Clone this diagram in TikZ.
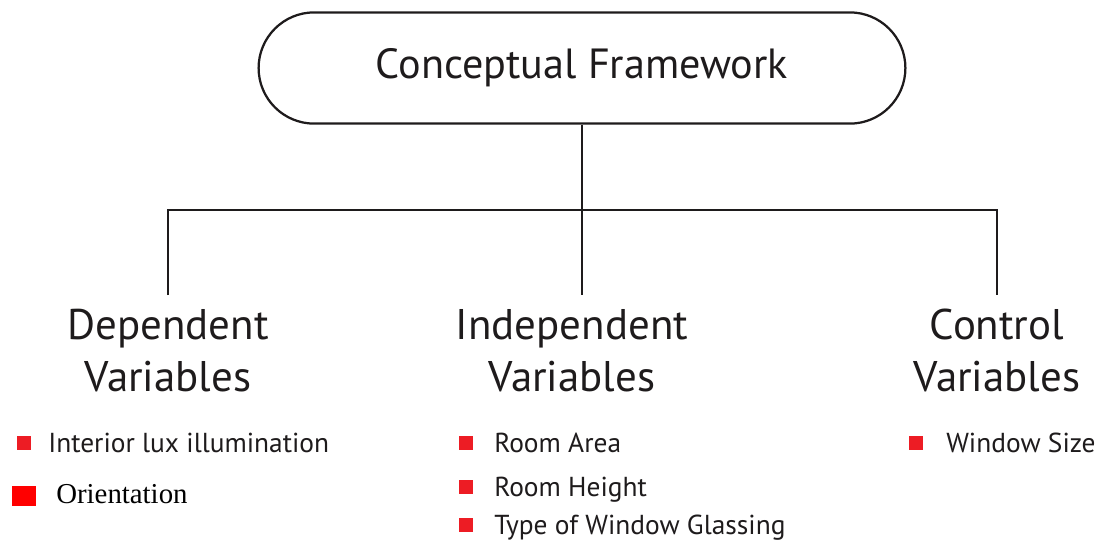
\documentclass[tikz,border=0pt]{standalone}
\usepackage{fontspec}
\setmainfont{PT Sans}
\newfontfamily\timesfont{Liberation Serif}
\usepackage{tikz}
\usetikzlibrary{positioning,shapes.misc}
\usepackage{xcolor}
\definecolor{cfred}{RGB}{237,28,36}
\definecolor{cfpure}{RGB}{255,0,0}
\definecolor{cfblack}{RGB}{30,27,28}
\tikzstyle{frame} = [rounded rectangle, draw=cfblack, line width=1.6pt, minimum width=16.4cm, minimum height=2.78cm, font=\fontsize{30}{36}\selectfont]
\tikzstyle{heading} = [align=center, anchor=north, inner xsep=0pt, inner ysep=10pt, font=\fontsize{30.5}{37}\selectfont]
\tikzstyle{link} = [line width=0.8pt, color=cfblack]
\tikzstyle{item} = [anchor=base west, inner sep=0pt, font=\fontsize{19.5}{22}\selectfont]
\tikzstyle{square} = [rectangle, fill=cfred, minimum size=0.36cm, inner sep=0pt]

\begin{document}
\begin{tikzpicture}[x=0.025cm, y=-0.025cm, text=cfblack]
\useasboundingbox (0,0) rectangle (1104,542);

% Title
\node[frame] (cf) at (582,68) {Conceptual Framework};

% Variable groups
\node[heading] (dep) at (168,295) {Dependent\\Variables};
\node[heading] (ind) at (572,295) {Independent\\Variables};
\node[heading] (ctl) at (997,295) {Control\\Variables};

% Branches
\draw[link] (cf.south) -- (cf.south |- ind.north);
\draw[link] (dep.north) -- ++(0,-85) -| (ctl.north);

% Dependent
\node[square] (sq1) at (24,443) {};
\node[item] (lux) at (48,452) {Interior lux illumination};
\node[rectangle, fill=cfpure, minimum width=0.58cm, minimum height=0.5cm, inner sep=0pt] (sq2) at (24,496) {};
\node[item, font=\timesfont\fontsize{20.5}{24}\selectfont, text=black] (ori) at (56,503) {Orientation};

% Independent
\node[square] (sq3) at (466,443) {};
\node[item] (area) at (494,452) {Room Area};
\node[square] (sq4) at (466,487) {};
\node[item] (height) at (494,496) {Room Height};
\node[square] (sq5) at (466,525) {};
\node[item] (glass) at (494,534) {Type of Window Glassing};

% Control
\node[square] (sq6) at (916,443) {};
\node[item] (size) at (946,452) {Window Size};
\end{tikzpicture}
\end{document}
